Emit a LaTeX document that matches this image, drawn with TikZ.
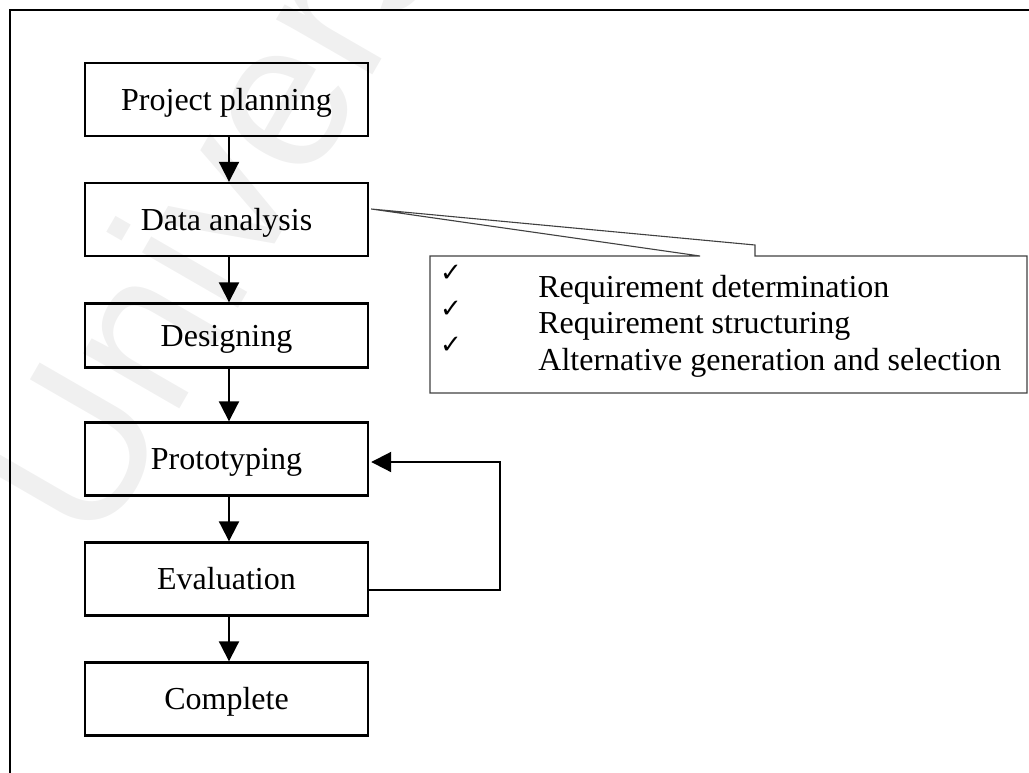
\documentclass[tikz,border=0pt]{standalone}
\usepackage{fontspec}
\setmainfont{Liberation Serif}
\newfontfamily\ticksymbols{DejaVu Sans}
\newfontfamily\markfont{Liberation Sans}
\usetikzlibrary{arrows.meta}
\begin{document}
\begin{tikzpicture}[x=0.5pt,y=-0.5pt,
  stage/.style={draw, line width=1.2pt, minimum width=141.5pt, minimum height=36.5pt,
    inner sep=0pt, font=\fontsize{16}{19}\selectfont, text height=12pt, text depth=1.5pt},
  flow/.style={line width=1pt, -{Triangle[width=10pt,length=10pt]}},
  callout/.style={draw=black!75, line width=0.55pt},
  item/.style={anchor=base west, inner sep=0pt, font=\fontsize{16}{19}\selectfont},
  tick/.style={inner sep=0pt, font=\ticksymbols\fontsize{13}{14}\selectfont}]
\useasboundingbox (0,0) rectangle (1029,772);

% faint watermark and the open outer frame
\begin{scope}
  \clip (0,0) rectangle (1029,772);
  \node[rotate=60, text=black!6, inner sep=0pt,
        font=\markfont\fontsize{105}{105}\selectfont] (wm) at (248,141) {Universiti};
  \draw[line width=1.4pt] (10,790) -- (10,10) -- (1040,10);
\end{scope}

% process stages
\node[stage] (plan) at (226.5,99.5) {Project planning};
\node[stage] (analysis) at (226.5,219.5) {Data analysis};
\node[stage, minimum height=32pt] (design) at (226.5,335.5) {Designing};
\node[stage] (proto) at (226.5,459) {Prototyping};
\node[stage] (eval) at (226.5,579) {Evaluation};
\node[stage] (done) at (226.5,699) {Complete};

\draw[flow] ([xshift=1.25pt]plan.south) -- ([xshift=1.25pt]analysis.north);
\draw[flow] ([xshift=1.25pt]analysis.south) -- ([xshift=1.25pt]design.north);
\draw[flow] ([xshift=1.25pt]design.south) -- ([xshift=1.25pt]proto.north);
\draw[flow] ([xshift=1.25pt]proto.south) -- ([xshift=1.25pt]eval.north);
\draw[flow] ([xshift=1.25pt]eval.south) -- ([xshift=1.25pt]done.north);

% feedback loop from evaluation back to prototyping
\coordinate (loopA) at (500,590);
\coordinate (loopB) at (500,462);
\draw[flow] (eval.east |- loopA) -- (loopA) -- (loopB) -- ([xshift=1pt]proto.east |- loopB);

% callout attached to the data analysis stage
\coordinate (gapL) at (700,256);
\coordinate (gapR) at (755,256);
\coordinate (gapUp) at (755,245);
\draw[callout] (gapL) -- (430,256) -- (430,393) -- (1027,393) -- (1027,256) -- (gapR) -- (gapUp)
  -- ([xshift=1pt,yshift=5.25pt]analysis.east) -- cycle;

\node[tick] (t1) at (451,273) {✓};
\node[tick] (t2) at (451,309) {✓};
\node[tick] (t3) at (451,345) {✓};
\node[item] (i1) at (538,297) {Requirement determination};
\node[item] (i2) at (538,333.5) {Requirement structuring};
\node[item] (i3) at (538,370) {Alternative generation and selection};
\end{tikzpicture}
\end{document}
